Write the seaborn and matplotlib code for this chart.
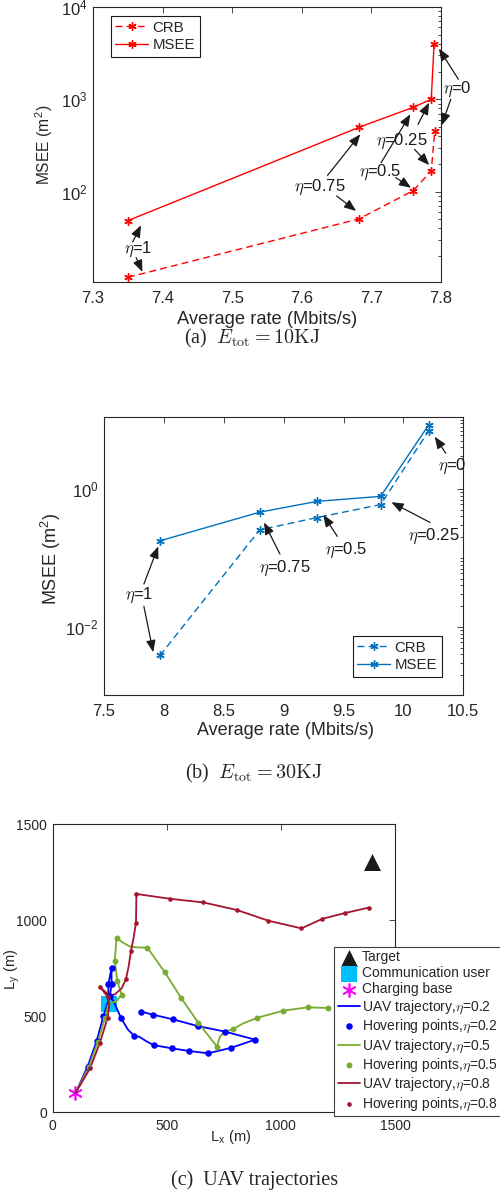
import numpy as np
import pandas as pd
import matplotlib
matplotlib.use("Agg")
import matplotlib.pyplot as plt
import seaborn as sns
from matplotlib.ticker import FixedLocator, NullFormatter

# ---------------- data ----------------
# (a) E_tot = 10KJ   (eta = 1, 0.75, 0.5, 0.25, 0)
rate_a = [7.350, 7.682, 7.760, 7.786, 7.790]
msee_a = [48.5, 497.0, 819.0, 1000.0, 3950.0]
crb_rate_a = [7.350, 7.682, 7.760, 7.786, 7.791]
crb_a = [11.8, 50.6, 102.5, 167.6, 454.0]

# (b) E_tot = 30KJ
rate_b = [7.967, 8.800, 9.280, 9.810, 10.210]
msee_b = [0.177, 0.46, 0.66, 0.78, 8.4]
crb_b = [0.00386, 0.255, 0.385, 0.593, 6.9]

# (c) UAV trajectories
target = ([1400], [1300])
comm_user = ([248], [562])
charging_base = ([100], [100])

traj02_x = [100, 153, 193, 222, 244, 244, 258, 258, 251, 270, 299, 330, 358, 380, 410, 442,
            521, 599, 681, 783, 887, 755, 635, 526, 440, 387]
traj02_y = [100, 238, 372, 500, 580, 666, 752, 666, 607, 570, 492, 430, 397, 393, 370, 350,
            333, 319, 307, 336, 378, 420, 449, 484, 508, 524]
hov02_x = [153, 193, 222, 244, 258, 258, 251, 299, 358, 442, 521, 599, 681, 783, 887, 755,
           635, 526, 440, 387]
hov02_y = [238, 372, 500, 666, 752, 666, 607, 492, 397, 350, 333, 319, 307, 336, 378, 420,
           449, 484, 508, 524]

traj05_x = [100, 158, 198, 230, 242, 260, 277, 302, 283, 272, 280, 305, 339, 383, 415, 492,
            562, 638, 720, 733, 755, 789, 835, 897, 1011, 1117, 1208]
traj05_y = [100, 235, 368, 492, 555, 572, 575, 612, 685, 787, 909, 885, 862, 857, 857, 728,
            597, 466, 342, 394, 420, 432, 463, 492, 529, 546, 543]
hov05_x = [158, 198, 230, 302, 283, 272, 280, 415, 492, 562, 638, 720, 789, 897, 1011, 1117, 1208]
hov05_y = [235, 368, 492, 612, 685, 787, 909, 857, 728, 597, 466, 342, 432, 492, 529, 546, 543]

traj08_x = [100, 164, 207, 241, 248, 241, 207, 229, 251, 273, 302, 321, 333, 343, 355, 365,
            367, 514, 660, 806, 945, 1090, 1182, 1282, 1385]
traj08_y = [100, 229, 362, 492, 560, 600, 654, 628, 607, 614, 645, 692, 760, 839, 910, 987,
            1136, 1111, 1092, 1053, 997, 957, 1007, 1037, 1065]
hov08_x = [164, 207, 241, 241, 207, 321, 343, 365, 367, 514, 660, 806, 945, 1090, 1182, 1282, 1385]
hov08_y = [229, 362, 492, 600, 654, 692, 839, 987, 1136, 1111, 1092, 1053, 997, 957, 1007, 1037, 1065]

# annotations: (label, text_xy, [(arrow_start, arrow_tip), ...])
ann_a = [
    ("0",    (7.824, 1283), [((7.825, 1648), (7.797, 3540)), ((7.814, 1000), (7.801, 523))]),
    ("0.25", (7.743, 354),  [((7.767, 535), (7.783, 920)), ((7.762, 287), (7.783, 194))]),
    ("0.5",  (7.713, 163),  [((7.714, 206), (7.756, 689)), ((7.735, 142), (7.757, 110))]),
    ("0.75", (7.626, 112),  [((7.637, 150), (7.684, 418)), ((7.650, 89.8), (7.678, 61.8))]),
    ("1",    (7.365, 23.7), [((7.357, 28.5), (7.369, 43.2)), ((7.362, 19.3), (7.371, 13.5))]),
]
ann_b = [
    ("0",    (10.41, 2.15),   [((10.354, 3.28), (10.262, 5.71))]),
    ("0.25", (10.256, 0.209), [((10.223, 0.326), (9.900, 0.641))]),
    ("0.5",  (9.518, 0.128),  [((9.448, 0.205), (9.331, 0.421))]),
    ("0.75", (9.011, 0.0697), [((8.969, 0.114), (8.836, 0.326))]),
    ("1",    (7.791, 0.0284), [((7.833, 0.0419), (7.953, 0.147)), ((7.833, 0.0199), (7.911, 0.0043))]),
]

# ---------------- style ----------------
sns.set_theme(style="white")
plt.rcParams["font.family"] = ["Liberation Sans", "DejaVu Sans"]
plt.rcParams["mathtext.fontset"] = "cm"
plt.rcParams["axes.edgecolor"] = "0.15"
plt.rcParams["axes.linewidth"] = 0.8
plt.rcParams["xtick.color"] = "0.15"
plt.rcParams["ytick.color"] = "0.15"
plt.rcParams["axes.labelcolor"] = "0.15"

AST = (6, 2, 0)
W, H = 500, 1191
fig = plt.figure(figsize=(W / 100, H / 100), dpi=100)


def frac(l, t, r, b):
    return [l / W, 1 - b / H, (r - l) / W, (b - t) / H]


ax1 = fig.add_axes(frac(93, 7, 441, 282))
ax2 = fig.add_axes(frac(104, 417.3, 463.3, 694.5))
ax3 = fig.add_axes(frac(52.67, 824, 395, 1112.33))


def style_ax(ax, fs, xpad, ypad):
    ax.tick_params(which="both", direction="in", top=True, right=True,
                   labelsize=fs, width=0.6, color="0.15")
    ax.tick_params(which="major", length=4)
    ax.tick_params(which="minor", length=2)
    ax.tick_params(axis="x", pad=xpad)
    ax.tick_params(axis="y", pad=ypad)


def arrows(ax, items):
    for lab, (tx, ty), arrs in items:
        ax.text(tx, ty, r"$\eta$=" + lab, ha="center", va="center", fontsize=12,
                color="k", clip_on=False)
        for (sx, sy), (ex, ey) in arrs:
            ax.annotate("", xy=(ex, ey), xytext=(sx, sy), annotation_clip=False,
                        arrowprops=dict(arrowstyle="-|>,head_length=0.55,head_width=0.22",
                                        color="k", lw=0.9, shrinkA=0, shrinkB=0,
                                        mutation_scale=13))


def mline(ax, x, y, col, lab, dashed):
    kw = dict(ax=ax, color=col, lw=1.0, marker=AST, markersize=6, markeredgewidth=1.0,
              markeredgecolor=col, markerfacecolor=col, label=lab,
              estimator=None, sort=False)
    if dashed:
        kw["linestyle"] = (0, (5, 3))
    sns.lineplot(x=x, y=y, **kw)


# ---------- (a) ----------
red = "#FF0000"
mline(ax1, crb_rate_a, crb_a, red, "CRB", True)
mline(ax1, rate_a, msee_a, red, "MSEE", False)
ax1.set_yscale("log")
ax1.set_xlim(7.3, 7.8)
ax1.set_ylim(10.5, 1e4)
ax1.set_xticks([7.3, 7.4, 7.5, 7.6, 7.7, 7.8])
ax1.set_xticklabels(["7.3", "7.4", "7.5", "7.6", "7.7", "7.8"])
ax1.yaxis.set_major_locator(FixedLocator([1e2, 1e3, 1e4]))
ax1.yaxis.set_minor_locator(FixedLocator([k * 10.0 ** n for n in (1, 2, 3) for k in range(2, 10)]))
ax1.yaxis.set_minor_formatter(NullFormatter())
style_ax(ax1, 12, 6.5, 4)
ax1.set_xlabel("Average rate (Mbits/s)", fontsize=13.2)
ax1.set_ylabel(r"MSEE (m$^\mathregular{2}$)", fontsize=11.2)
ax1.xaxis.set_label_coords(0.5, -0.105)
ax1.yaxis.set_label_coords(-0.109, 0.5)
arrows(ax1, ann_a)
leg = ax1.legend(loc="upper left", bbox_to_anchor=(110.7 / W, 1 - 16 / H),
                 bbox_transform=fig.transFigure, borderaxespad=0, fontsize=10.8,
                 handlelength=2.2, handletextpad=0.3, borderpad=0.3, labelspacing=0.25,
                 fancybox=False, framealpha=1, edgecolor="k")
leg.get_frame().set_linewidth(0.8)

# ---------- (b) ----------
blue = "#0072BD"
mline(ax2, rate_b, crb_b, blue, "CRB", True)
mline(ax2, rate_b, msee_b, blue, "MSEE", False)
ax2.set_yscale("log")
ax2.set_xlim(7.5, 10.5)
ax2.set_ylim(1.05e-3, 10.9)
ax2.set_xticks([7.5, 8, 8.5, 9, 9.5, 10, 10.5])
ax2.set_xticklabels(["7.5", "8", "8.5", "9", "9.5", "10", "10.5"])
ax2.yaxis.set_major_locator(FixedLocator([1e-2, 1e0]))
ax2.yaxis.set_minor_locator(FixedLocator(
    [k * 10.0 ** n for n in (-3, -2, -1, 0, 1) for k in range(1, 10)
     if not (k == 1 and n in (-2, 0))]))
ax2.yaxis.set_minor_formatter(NullFormatter())
style_ax(ax2, 12, 6.5, 4)
ax2.set_xlabel("Average rate (Mbits/s)", fontsize=13)
ax2.set_ylabel(r"MSEE (m$^\mathregular{2}$)", fontsize=13)
ax2.xaxis.set_label_coords(0.506, -0.0975)
ax2.yaxis.set_label_coords(-0.113, 0.49)
arrows(ax2, ann_b)
leg = ax2.legend(loc="upper left", bbox_to_anchor=(352.7 / W, 1 - 636 / H),
                 bbox_transform=fig.transFigure, borderaxespad=0, fontsize=10.8,
                 handlelength=2.2, handletextpad=0.3, borderpad=0.3, labelspacing=0.25,
                 fancybox=False, framealpha=1, edgecolor="k")
leg.get_frame().set_linewidth(0.8)

# ---------- (c) ----------
c02, c05, c08 = "#0000FF", "#77AC30", "#A2142F"
sns.scatterplot(x=target[0], y=target[1], ax=ax3, marker="^", s=150, color="k",
                edgecolor="k", linewidth=0, label="Target", zorder=3)
sns.scatterplot(x=comm_user[0], y=comm_user[1], ax=ax3, marker="s", s=135, color="#00BFFF",
                edgecolor="#00BFFF", linewidth=0, label="Communication user", zorder=1)
sns.scatterplot(x=charging_base[0], y=charging_base[1], ax=ax3, marker=AST, s=90,
                color="#FF00FF", edgecolor="#FF00FF", linewidth=1.2,
                label="Charging base", zorder=2)
for tx, ty, hx, hy, col, eta, ms in [
        (traj02_x, traj02_y, hov02_x, hov02_y, c02, "0.2", 22),
        (traj05_x, traj05_y, hov05_x, hov05_y, c05, "0.5", 18),
        (traj08_x, traj08_y, hov08_x, hov08_y, c08, "0.8", 11)]:
    sns.lineplot(x=tx, y=ty, ax=ax3, color=col, lw=1.3, estimator=None, sort=False,
                 label=r"UAV trajectory,$\eta$=" + eta, zorder=4)
    sns.scatterplot(x=hx, y=hy, ax=ax3, color=col, s=ms, linewidth=0,
                    label=r"Hovering points,$\eta$=" + eta, zorder=5)
ax3.set_xlim(0, 1500)
ax3.set_ylim(0, 1500)
ax3.set_xticks([0, 500, 1000, 1500])
ax3.set_yticks([0, 500, 1000, 1500])
style_ax(ax3, 10, 5, 4)
ax3.set_xlabel(r"L$_\mathregular{x}$ (m)", fontsize=10.5)
ax3.set_ylabel(r"L$_\mathregular{y}$ (m)", fontsize=10.5)
ax3.xaxis.set_label_coords(0.521, -0.054)
ax3.yaxis.set_label_coords(-0.09, 0.497)
leg = ax3.legend(loc="upper left", bbox_to_anchor=(334.3 / W, 1 - 946.7 / H),
                 bbox_transform=fig.transFigure, borderaxespad=0, fontsize=10,
                 handlelength=1.6, handletextpad=0.15, borderpad=0.25, labelspacing=0.15,
                 fancybox=False, framealpha=1, edgecolor="0.25")
leg.get_frame().set_linewidth(0.8)

# ---------- captions ----------
cap = dict(ha="center", va="center", fontsize=14.5, family=["Liberation Serif", "DejaVu Serif"])
fig.text(252 / W, 1 - 338 / H, r"(a)  $E_{\mathrm{tot}}=10\mathrm{KJ}$", **cap)
fig.text(254 / W, 1 - 773 / H, r"(b)  $E_{\mathrm{tot}}=30\mathrm{KJ}$", **cap)
fig.text(255 / W, 1 - 1180 / H, "(c)  UAV trajectories", **cap)

fig.savefig("out.png", dpi=100)
